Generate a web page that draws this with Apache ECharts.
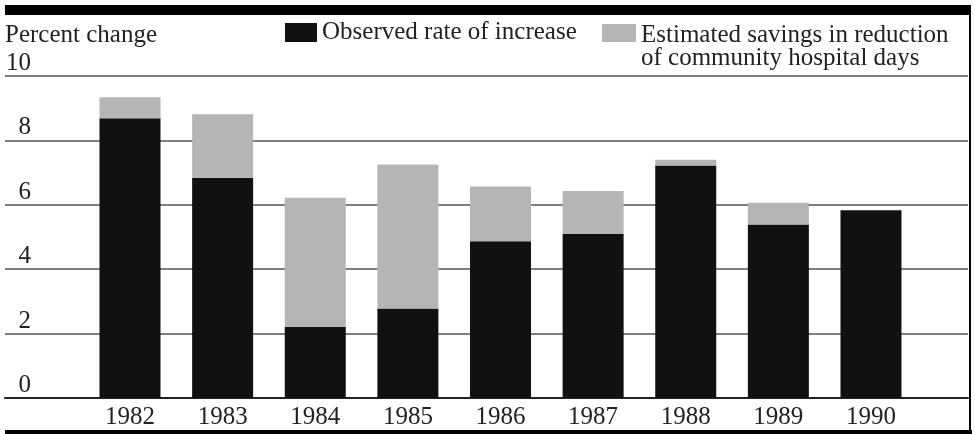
<!DOCTYPE html>
<html>
<head>
<meta charset="utf-8">
<script src="https://cdn.jsdelivr.net/npm/echarts@6/dist/echarts.min.js"></script>
<style>
  html, body { margin: 0; padding: 0; background: #fff; }
  #main { width: 975px; height: 434px; }
</style>
</head>
<body>
<div id="main"></div>
<script>
// 数据
const years = ['1982', '1983', '1984', '1985', '1986', '1987', '1988', '1989', '1990']
const observed = [8.69, 6.84, 2.21, 2.78, 4.87, 5.09, 7.22, 5.39, 5.83]
const savings = [0.65, 1.97, 4.01, 4.47, 1.70, 1.34, 0.18, 0.67, 0]
const yTicks = [0, 2, 4, 6, 8, 10]

const font = 'Liberation Serif'
const chart = echarts.init(document.getElementById('main'), null, { renderer: 'canvas' })

const legendText = {
  fontFamily: font,
  fontSize: 25,
  color: '#222'
}

chart.setOption({
  animation: false,
  backgroundColor: '#fff',
  grid: [
    { left: 5, right: 7, top: 76, bottom: 36 },
    { left: 83.7, right: 57.7, top: 76, bottom: 36 }
  ],
  legend: [
    {
      data: ['Observed rate of increase'],
      left: 280, top: 15,
      icon: 'rect', itemWidth: 32, itemHeight: 19,
      textStyle: legendText,
      selectedMode: false
    },
    {
      // 图标只占两行文字的上半部分，让它和第一行对齐
      data: ['Estimated savings in reduction\nof community hospital days'],
      left: 597, top: 18,
      icon: 'path://M0,0H34V18H0Z M33.99,45.99H34V46H33.99Z',
      itemWidth: 34, itemHeight: 46,
      textStyle: Object.assign({ lineHeight: 23 }, legendText),
      selectedMode: false
    }
  ],
  xAxis: [
    {
      gridIndex: 0, type: 'category', data: [],
      axisLine: { show: true, lineStyle: { color: '#222', width: 2 } },
      axisTick: { show: false }, axisLabel: { show: false }
    },
    {
      gridIndex: 1, type: 'category', data: years,
      axisLine: { show: false }, axisTick: { show: false },
      axisLabel: { fontFamily: font, fontSize: 25, color: '#222', margin: 7 }
    }
  ],
  yAxis: [
    {
      gridIndex: 0, type: 'value', min: yTicks[0], max: yTicks[yTicks.length - 1], interval: 2,
      name: 'Percent change', nameLocation: 'end', nameGap: 28,
      nameTextStyle: { fontFamily: font, fontSize: 25, color: '#222', align: 'left', verticalAlign: 'bottom', padding: [0, 0, 0, 0] },
      axisLine: { show: false }, axisTick: { show: false },
      axisLabel: {
        inside: true, margin: 26, align: 'right', verticalAlign: 'bottom',
        fontFamily: font, fontSize: 25, color: '#222'
      },
      splitLine: { show: true, lineStyle: { color: '#555', width: 1.5 } }
    },
    {
      gridIndex: 1, type: 'value', min: 0, max: 10, interval: 2,
      show: false, splitLine: { show: false }
    }
  ],
  series: [
    {
      name: 'Observed rate of increase', type: 'bar', stack: 'total',
      xAxisIndex: 1, yAxisIndex: 1, barWidth: 61,
      itemStyle: { color: '#111' },
      data: observed
    },
    {
      name: 'Estimated savings in reduction\nof community hospital days', type: 'bar', stack: 'total',
      xAxisIndex: 1, yAxisIndex: 1, barWidth: 61,
      itemStyle: { color: '#b5b5b5' },
      data: savings
    }
  ],
  graphic: [
    { type: 'rect', shape: { x: 5, y: 5, width: 966, height: 10 }, style: { fill: '#000' } },
    { type: 'rect', shape: { x: 969, y: 5, width: 2, height: 427 }, style: { fill: '#000' } },
    { type: 'rect', shape: { x: 5, y: 430, width: 967, height: 4 }, style: { fill: '#000' } }
  ]
})
</script>
</body>
</html>
